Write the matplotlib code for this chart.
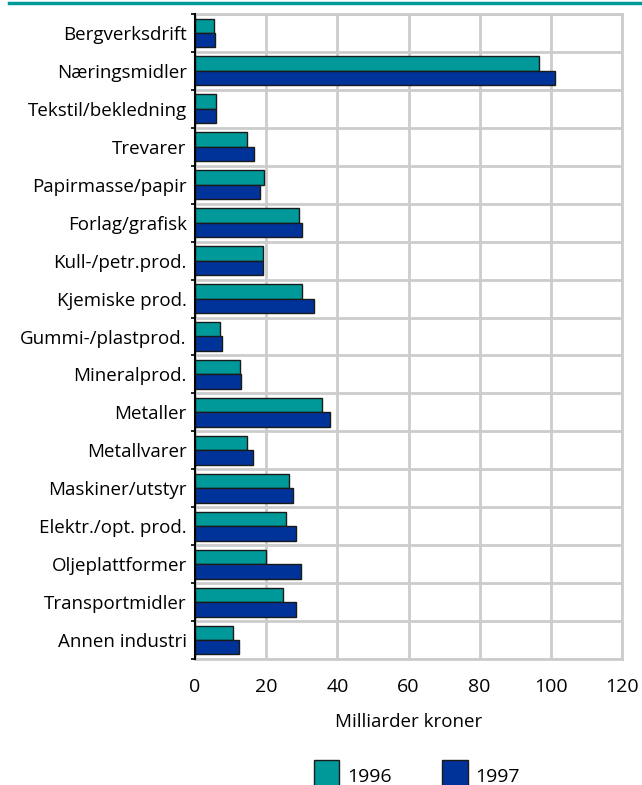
import numpy as np
import matplotlib
matplotlib.use('Agg')
import matplotlib.pyplot as plt
from matplotlib.lines import Line2D

categories = ['Bergverksdrift', 'Næringsmidler', 'Tekstil/bekledning', 'Trevarer',
              'Papirmasse/papir', 'Forlag/grafisk', 'Kull-/petr.prod.', 'Kjemiske prod.',
              'Gummi-/plastprod.', 'Mineralprod.', 'Metaller', 'Metallvarer',
              'Maskiner/utstyr', 'Elektr./opt. prod.', 'Oljeplattformer',
              'Transportmidler', 'Annen industri']
v1996 = [5.3, 96.8, 5.9, 14.7, 19.5, 29.1, 19.0, 30.2, 7.1, 12.6, 35.7, 14.7,
         26.4, 25.6, 19.9, 24.7, 10.6]
v1997 = [5.5, 101.3, 5.9, 16.6, 18.4, 30.0, 19.1, 33.5, 7.5, 13.0, 37.9, 16.3,
         27.6, 28.5, 29.8, 28.4, 12.3]
xticks = [0, 20, 40, 60, 80, 100, 120]

plt.rcParams['font.family'] = ['Open Sans', 'DejaVu Sans']
teal = '#009999'
navy = '#003399'
grid_c = '#cccccc'
fs = 13.5

fig = plt.figure(figsize=(6.42, 7.85), dpi=100)
ax = fig.add_axes([195/642, 1 - 659/785, 427/642, 645/785])

y = np.arange(len(categories))
h = 0.38
ax.barh(y - h/2, v1996, height=h, color=teal, edgecolor='#1a1a1a', linewidth=1, label='1996', zorder=3)
ax.barh(y + h/2, v1997, height=h, color=navy, edgecolor='#1a1a1a', linewidth=1, label='1997', zorder=3)

ax.set_xlim(0, 120)
ax.set_ylim(len(categories) - 0.5, -0.5)
ax.set_xticks(xticks)
ax.set_yticks(y)
ax.set_yticklabels(categories, fontsize=fs)
ax.set_yticks(np.arange(len(categories) + 1) - 0.5, minor=True)
ax.tick_params(axis='y', which='major', length=0, pad=6)
ax.tick_params(axis='y', which='minor', length=3, width=1.2, color='black')
ax.tick_params(axis='x', length=0, labelsize=fs + 0.5, pad=14)
ax.grid(axis='x', color=grid_c, linewidth=2, zorder=0)
ax.grid(axis='y', which='minor', color=grid_c, linewidth=2, zorder=0)
for s in ['top', 'right', 'bottom']:
    ax.spines[s].set_color(grid_c)
    ax.spines[s].set_linewidth(2)
ax.spines['left'].set_color('black')
ax.spines['left'].set_linewidth(1.5)
ax.spines['left'].set_zorder(4)
ax.set_xlabel('Milliarder kroner', fontsize=fs, labelpad=12)

# teal rule at the top
fig.add_artist(Line2D([9/642, 1], [1 - 3/785, 1 - 3/785], color=teal, linewidth=2.5))

handles, labels = ax.get_legend_handles_labels()
fig.legend(handles, labels, loc='center', bbox_to_anchor=(417/642, 1 - 776/785),
           ncol=2, frameon=False, fontsize=fs + 0.5, handlelength=1.3, handleheight=2.1,
           handletextpad=0.4, columnspacing=2.6, borderpad=0)

plt.savefig('out.png', dpi=100)
